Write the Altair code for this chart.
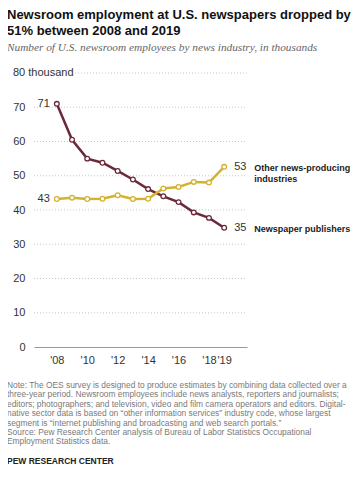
import altair as alt
import pandas as pd

years = list(range(2008, 2020))
newspaper = [71.0, 60.5, 55.0, 53.8, 51.4, 48.9, 46.1, 44.0, 42.3, 39.3, 37.7, 34.8]
other = [43.2, 43.6, 43.2, 43.3, 44.3, 43.2, 43.3, 46.3, 46.7, 48.2, 48.0, 52.6]
series_names = ["Newspaper publishers", "Other news-producing industries"]
series_labels = ["Newspaper publishers", "Other news-producing\nindustries"]
x_ticks = [2008, 2010, 2012, 2014, 2016, 2018, 2019]
y_ticks = [0, 10, 20, 30, 40, 50, 60, 70]
grid_vals = [10, 20, 30, 40, 50, 60, 70]

title_lines = ["Newsroom employment at U.S. newspapers dropped by", "51% between 2008 and 2019"]
subtitle = "Number of U.S. newsroom employees by news industry, in thousands"
note_lines = [
    "Note: The OES survey is designed to produce estimates by combining data collected over a",
    "three-year period. Newsroom employees include news analysts, reporters and journalists;",
    "editors; photographers; and television, video and film camera operators and editors. Digital-",
    "native sector data is based on \u201cother information services\u201d industry code, whose largest",
    "segment is \u201cinternet publishing and broadcasting and web search portals.\u201d",
    "Source: Pew Research Center analysis of Bureau of Labor Statistics Occupational",
    "Employment Statistics data.",
]
credit = "PEW RESEARCH CENTER"

colors = ["#6b2a3a", "#d4b22e"]
FONT = "Liberation Sans"

rows = []
for y, a, b in zip(years, newspaper, other):
    rows.append({"year": y, "value": a, "series": series_names[0]})
    rows.append({"year": y, "value": b, "series": series_names[1]})
df = pd.DataFrame(rows)

W, H = 213, 274
xs = alt.Scale(domain=[2006.5, 2020.5])
ys = alt.Scale(domain=[0, 80])
color = alt.Color("series:N", scale=alt.Scale(domain=series_names, range=colors), legend=None)

x_axis = alt.Axis(values=x_ticks, labelExpr="\"'\" + slice(toString(datum.value), 2)",
                  title=None, grid=False, ticks=False, domain=True,
                  domainColor="#999999", labelPadding=7, labelFont=FONT,
                  labelFontSize=11, labelColor="#333333", labelOverlap=False,
                  labelFlush=False)
y_axis = alt.Axis(values=y_ticks, title=None, grid=False, ticks=False, domain=False,
                  labelPadding=9, labelFont=FONT, labelFontSize=11,
                  labelColor="#333333", labelOverlap=False, labelFlush=False)


def X(field):
    return alt.X(field, scale=xs, axis=x_axis)


def Y(field):
    return alt.Y(field, scale=ys, axis=y_axis)


base = alt.Chart(df)

grid = alt.Chart(pd.DataFrame({"v": grid_vals})).mark_rule(
    color="#c8c8c8", strokeDash=[1, 2], strokeWidth=1
).encode(y=Y("v:Q"), x=alt.value(0), x2=alt.value(W))

grid80 = alt.Chart(pd.DataFrame({"v": [80]})).mark_rule(
    color="#c8c8c8", strokeDash=[1, 2], strokeWidth=1
).encode(y=Y("v:Q"), x=alt.value(38), x2=alt.value(W))

label80 = alt.Chart(pd.DataFrame({"v": [80], "t": ["80 thousand"]})).mark_text(
    align="left", baseline="middle", font=FONT, fontSize=11, color="#333333"
).encode(y=Y("v:Q"), x=alt.value(-21), text="t:N")

lines = base.mark_line(strokeWidth=2.5).encode(
    x=X("year:Q"), y=Y("value:Q"), color=color,
)

points = base.mark_point(filled=True, fill="white", size=22, strokeWidth=1.3, opacity=1).encode(
    x=X("year:Q"), y=Y("value:Q"),
    stroke=alt.Stroke("series:N", scale=alt.Scale(domain=series_names, range=colors), legend=None),
)

start_df = pd.DataFrame({"year": [2008, 2008], "value": [newspaper[0], other[0]],
                         "t": ["71", "43"]})
start_lbl = alt.Chart(start_df).mark_text(
    align="right", baseline="middle", dx=-7, font=FONT, fontSize=11, color="#333333"
).encode(x=X("year:Q"), y=Y("value:Q"), text="t:N")

end_df = pd.DataFrame({"year": [2019, 2019], "value": [newspaper[-1], other[-1]],
                       "t": ["35", "53"], "name": series_labels})
end_lbl = alt.Chart(end_df).mark_text(
    align="left", baseline="middle", dx=10, font=FONT, fontSize=11, color="#333333"
).encode(x=X("year:Q"), y=Y("value:Q"), text="t:N")

name_lbl = alt.Chart(end_df).mark_text(
    align="left", baseline="middle", dx=30, dy=1, font=FONT, fontSize=9, fontWeight="bold",
    color="#222222", lineBreak="\n", lineHeight=11.5
).encode(x=X("year:Q"), y=Y("value:Q"), text="name:N")

note_txt = alt.Chart(pd.DataFrame({"t": ["\n".join(note_lines)]})).mark_text(
    align="left", baseline="top", font=FONT, fontSize=8.4, color="#7a7a7a",
    lineBreak="\n", lineHeight=9.4
).encode(x=alt.value(-27), y=alt.value(308), text="t:N")

credit_txt = alt.Chart(pd.DataFrame({"t": [credit]})).mark_text(
    align="left", baseline="middle", font=FONT, fontSize=8.5, fontWeight="bold", color="#222222"
).encode(x=alt.value(-27), y=alt.value(388), text="t:N")

chart = alt.layer(
    grid, grid80, label80, lines, points, start_lbl, end_lbl, name_lbl, note_txt, credit_txt
).properties(
    width=W, height=H,
    title=alt.TitleParams(
        text=title_lines, subtitle=subtitle, anchor="start", frame="group", dx=-27,
        font=FONT, fontSize=13, fontWeight="bold", color="#111111", lineHeight=15.5,
        subtitleFont="Liberation Serif", subtitleFontStyle="italic", subtitleFontSize=11.3,
        subtitleColor="#666666", subtitlePadding=4, offset=14,
    ),
    autosize=alt.AutoSizeParams(type="none"),
    padding={"left": 26, "top": 65, "right": 105, "bottom": 125},
).configure_view(stroke=None)

chart.save("out.html", embed_options={"renderer": "svg", "actions": False})
